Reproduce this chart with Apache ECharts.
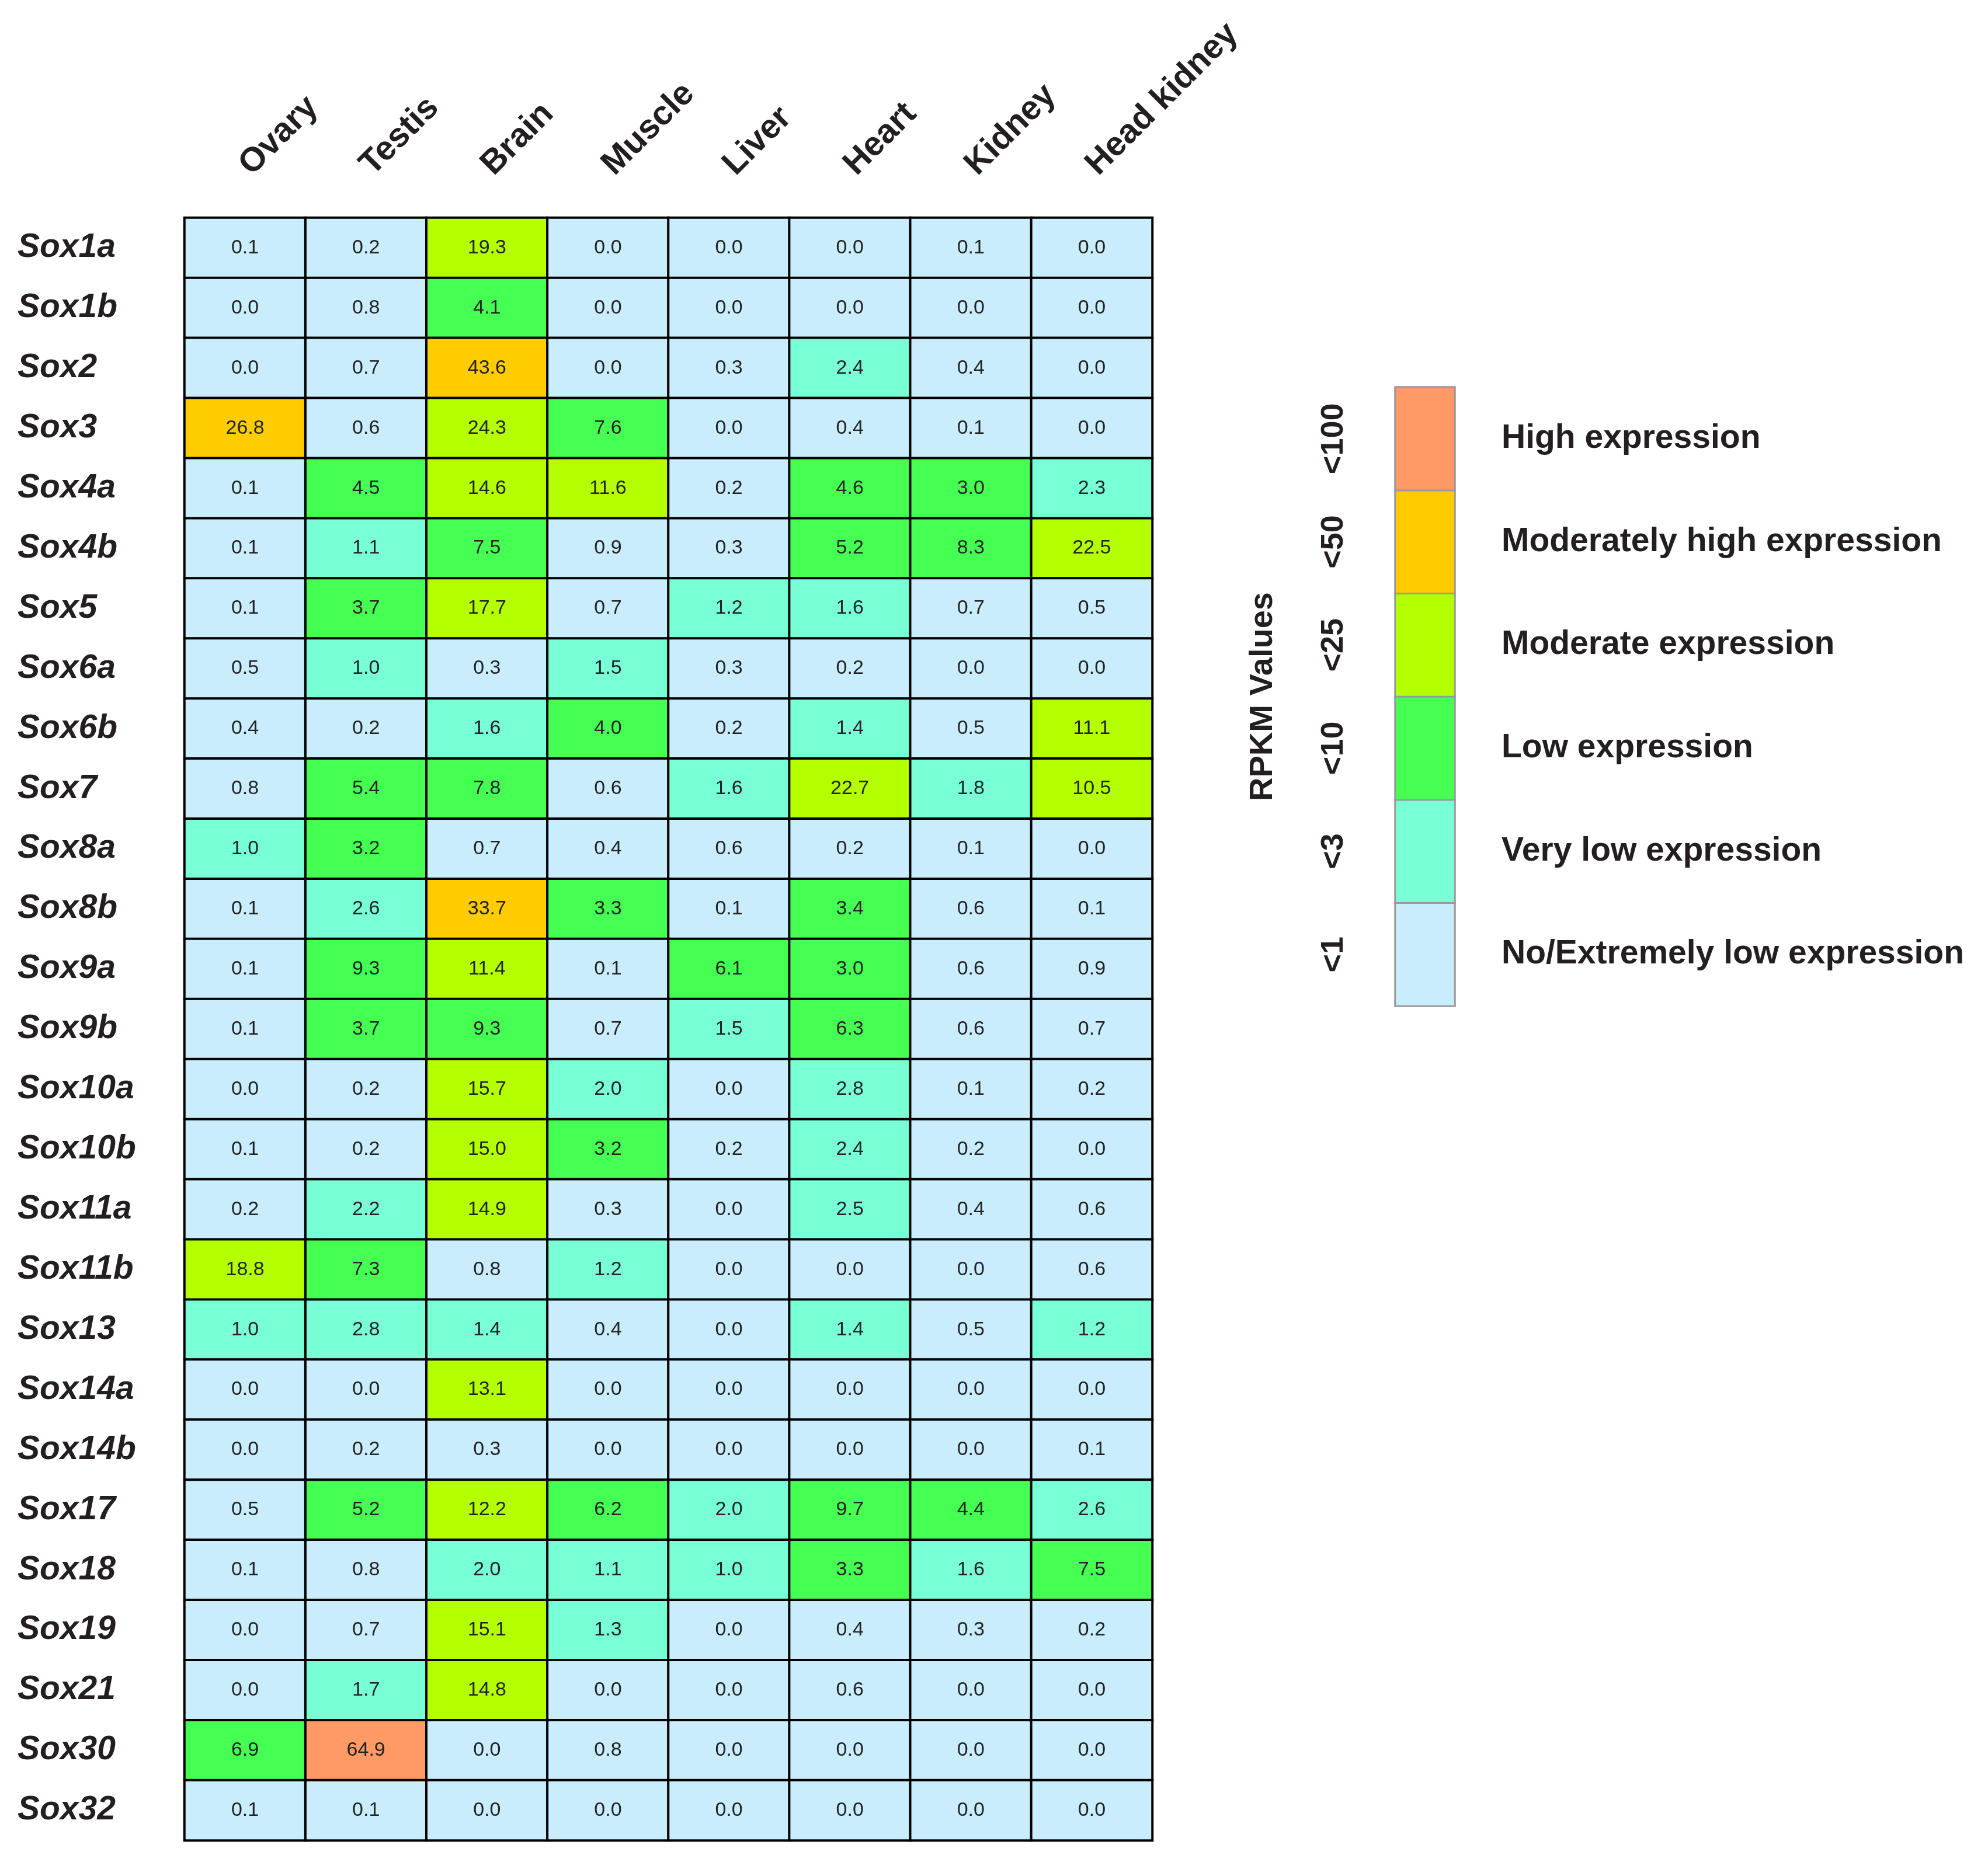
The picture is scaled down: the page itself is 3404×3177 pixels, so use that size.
<!DOCTYPE html>
<html>
<head>
<meta charset="utf-8">
<script src="https://cdn.jsdelivr.net/npm/echarts@6/dist/echarts.min.js"></script>
<style>
  html, body { margin: 0; padding: 0; background: #fff; }
  #chart { width: 3404px; height: 3177px; }
</style>
</head>
<body>
<div id="chart"></div>
<script>
var tissues = ['Ovary', 'Testis', 'Brain', 'Muscle', 'Liver', 'Heart', 'Kidney', 'Head kidney'];
var genes = ['Sox1a', 'Sox1b', 'Sox2', 'Sox3', 'Sox4a', 'Sox4b', 'Sox5', 'Sox6a', 'Sox6b', 'Sox7',
  'Sox8a', 'Sox8b', 'Sox9a', 'Sox9b', 'Sox10a', 'Sox10b', 'Sox11a', 'Sox11b', 'Sox13', 'Sox14a',
  'Sox14b', 'Sox17', 'Sox18', 'Sox19', 'Sox21', 'Sox30', 'Sox32'];

// RPKM per tissue, in gene order
var ovary = [0.1, 0.0, 0.0, 26.8, 0.1, 0.1, 0.1, 0.5, 0.4, 0.8, 1.0, 0.1, 0.1, 0.1, 0.0, 0.1, 0.2, 18.8, 1.0, 0.0, 0.0, 0.5, 0.1, 0.0, 0.0, 6.9, 0.1];
var testis = [0.2, 0.8, 0.7, 0.6, 4.5, 1.1, 3.7, 1.0, 0.2, 5.4, 3.2, 2.6, 9.3, 3.7, 0.2, 0.2, 2.2, 7.3, 2.8, 0.0, 0.2, 5.2, 0.8, 0.7, 1.7, 64.9, 0.1];
var brain = [19.3, 4.1, 43.6, 24.3, 14.6, 7.5, 17.7, 0.3, 1.6, 7.8, 0.7, 33.7, 11.4, 9.3, 15.7, 15.0, 14.9, 0.8, 1.4, 13.1, 0.3, 12.2, 2.0, 15.1, 14.8, 0.0, 0.0];
var muscle = [0.0, 0.0, 0.0, 7.6, 11.6, 0.9, 0.7, 1.5, 4.0, 0.6, 0.4, 3.3, 0.1, 0.7, 2.0, 3.2, 0.3, 1.2, 0.4, 0.0, 0.0, 6.2, 1.1, 1.3, 0.0, 0.8, 0.0];
var liver = [0.0, 0.0, 0.3, 0.0, 0.2, 0.3, 1.2, 0.3, 0.2, 1.6, 0.6, 0.1, 6.1, 1.5, 0.0, 0.2, 0.0, 0.0, 0.0, 0.0, 0.0, 2.0, 1.0, 0.0, 0.0, 0.0, 0.0];
var heart = [0.0, 0.0, 2.4, 0.4, 4.6, 5.2, 1.6, 0.2, 1.4, 22.7, 0.2, 3.4, 3.0, 6.3, 2.8, 2.4, 2.5, 0.0, 1.4, 0.0, 0.0, 9.7, 3.3, 0.4, 0.6, 0.0, 0.0];
var kidney = [0.1, 0.0, 0.4, 0.1, 3.0, 8.3, 0.7, 0.0, 0.5, 1.8, 0.1, 0.6, 0.6, 0.6, 0.1, 0.2, 0.4, 0.0, 0.5, 0.0, 0.0, 4.4, 1.6, 0.3, 0.0, 0.0, 0.0];
var headKidney = [0.0, 0.0, 0.0, 0.0, 2.3, 22.5, 0.5, 0.0, 11.1, 10.5, 0.0, 0.1, 0.9, 0.7, 0.2, 0.0, 0.6, 0.6, 1.2, 0.0, 0.1, 2.6, 7.5, 0.2, 0.0, 0.0, 0.0];

// legend classes, low to high
var levelLower = [0, 1, 3, 10, 25, 50];
var levelUpper = [1, 3, 10, 25, 50, 100];
var levelTicks = ['<1', '<3', '<10', '<25', '<50', '<100'];
var levelNames = ['No/Extremely low expression', 'Very low expression', 'Low expression',
  'Moderate expression', 'Moderately high expression', 'High expression'];
var levelColors = ['#C9EDFC', '#78FFD6', '#45FF53', '#B4FF00', '#FFCC00', '#FF9966'];

var columns = [ovary, testis, brain, muscle, liver, heart, kidney, headKidney];
var cells = [];
columns.forEach(function (col, x) {
  col.forEach(function (v, y) { cells.push([x, y, v]); });
});
var legendCells = levelLower.map(function (v, i) { return [0, i, v]; });

var pieces = levelLower.map(function (lo, i) {
  return { gte: lo, lt: levelUpper[i], color: levelColors[i] };
});

var font = "'Liberation Sans', Arial, sans-serif";
var ink = '#231F20';

var chart = echarts.init(document.getElementById('chart'));
chart.setOption({
  backgroundColor: '#fff',
  animation: false,
  grid: [
    { left: 316, right: 1431, top: 373, bottom: 25 },
    { left: 2389, width: 102, top: 663, height: 1060 }
  ],
  xAxis: [{
    type: 'category', gridIndex: 0, position: 'top', data: tissues,
    axisLine: { show: false }, axisTick: { show: false }, splitLine: { show: false },
    axisLabel: { rotate: -45, margin: 82, fontSize: 58, fontWeight: 'bold', fontFamily: font, color: ink }
  }, {
    type: 'category', gridIndex: 1, data: [''], show: false
  }],
  yAxis: [{
    type: 'category', gridIndex: 0, data: genes, inverse: true,
    axisLine: { show: false }, axisTick: { show: false }, splitLine: { show: false },
    axisLabel: { align: 'left', margin: 286, fontSize: 57, fontWeight: 'bold', fontStyle: 'italic', fontFamily: font, color: ink }
  }, {
    type: 'category', gridIndex: 1, data: levelTicks, position: 'left',
    axisLine: { show: false }, axisTick: { show: false },
    axisLabel: { rotate: 90, margin: 78, fontSize: 54, fontWeight: 'bold', fontFamily: font, color: ink },
    name: 'RPKM Values', nameLocation: 'middle', nameRotate: 90, nameGap: 198,
    nameTextStyle: { fontSize: 56, fontWeight: 'bold', fontFamily: font, color: ink }
  }, {
    type: 'category', gridIndex: 1, data: levelNames, position: 'right',
    axisLine: { show: false }, axisTick: { show: false },
    axisLabel: { margin: 80, fontSize: 57, fontWeight: 'bold', fontFamily: font, color: ink }
  }],
  visualMap: {
    type: 'piecewise', show: false, dimension: 2, seriesIndex: [0, 1], pieces: pieces
  },
  series: [{
    type: 'heatmap', xAxisIndex: 0, yAxisIndex: 0, data: cells,
    itemStyle: { borderColor: '#000', borderWidth: 4 },
    label: {
      show: true, fontSize: 34, fontFamily: font, color: '#222',
      formatter: function (p) { return p.data[2].toFixed(1); }
    }
  }, {
    type: 'heatmap', xAxisIndex: 1, yAxisIndex: 1, data: legendCells,
    itemStyle: { borderColor: '#9a9a9a', borderWidth: 3 },
    label: { show: false }
  }]
});
</script>
</body>
</html>
